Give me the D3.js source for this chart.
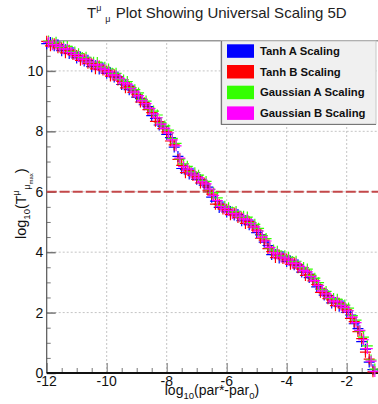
<!DOCTYPE html>
<html>
<head>
<meta charset="utf-8">
<script src="https://cdn.jsdelivr.net/npm/d3@7"></script>
<style>
  body { margin: 0; background: #fff; }
  svg { font-family: "Liberation Sans", Arial, sans-serif; }
</style>
</head>
<body>
<svg id="svg1" width="378" height="404"></svg>
<script>

// x grid used by the tanh runs, log10(par*-par0)
const xsTanh = [-12.000,-11.875,-11.750,-11.625,-11.500,-11.375,-11.250,-11.125,
            -11.000,-10.875,-10.750,-10.625,-10.500,-10.375,-10.250,-10.125,
            -10.000,-9.875,-9.750,-9.625,-9.500,-9.375,-9.250,-9.125,
            -9.000,-8.875,-8.750,-8.625,-8.500,-8.375,-8.250,-8.125,
            -8.000,-7.875,-7.750,-7.625,-7.500,-7.375,-7.250,-7.125,
            -7.000,-6.875,-6.750,-6.625,-6.500,-6.375,-6.250,-6.125,
            -6.000,-5.875,-5.750,-5.625,-5.500,-5.375,-5.250,-5.125,
            -5.000,-4.875,-4.750,-4.625,-4.500,-4.375,-4.250,-4.125,
            -4.000,-3.875,-3.750,-3.625,-3.500,-3.375,-3.250,-3.125,
            -3.000,-2.875,-2.750,-2.625,-2.500,-2.375,-2.250,-2.125,
            -2.000,-1.875,-1.750,-1.625,-1.500,-1.375,-1.250,-1.125];

// x grid used by the gaussian runs
const xsGauss = [-11.9375,-11.8125,-11.6875,-11.5625,-11.4375,-11.3125,-11.1875,-11.0625,
            -10.9375,-10.8125,-10.6875,-10.5625,-10.4375,-10.3125,-10.1875,-10.0625,
            -9.9375,-9.8125,-9.6875,-9.5625,-9.4375,-9.3125,-9.1875,-9.0625,
            -8.9375,-8.8125,-8.6875,-8.5625,-8.4375,-8.3125,-8.1875,-8.0625,
            -7.9375,-7.8125,-7.6875,-7.5625,-7.4375,-7.3125,-7.1875,-7.0625,
            -6.9375,-6.8125,-6.6875,-6.5625,-6.4375,-6.3125,-6.1875,-6.0625,
            -5.9375,-5.8125,-5.6875,-5.5625,-5.4375,-5.3125,-5.1875,-5.0625,
            -4.9375,-4.8125,-4.6875,-4.5625,-4.4375,-4.3125,-4.1875,-4.0625,
            -3.9375,-3.8125,-3.6875,-3.5625,-3.4375,-3.3125,-3.1875,-3.0625,
            -2.9375,-2.8125,-2.6875,-2.5625,-2.4375,-2.3125,-2.1875,-2.0625,
            -1.9375,-1.8125,-1.6875,-1.5625,-1.4375,-1.3125,-1.1875,-1.0625];

const tanhA = [10.90,10.94,10.83,10.87,10.67,10.70,10.58,10.61,
               10.43,10.46,10.33,10.35,10.14,10.17,10.06,10.10,
               9.92,9.94,9.80,9.80,9.55,9.54,9.38,9.36,
               9.13,9.08,8.88,8.82,8.52,8.43,8.21,8.16,
               7.90,7.79,7.48,7.17,6.77,6.73,6.59,6.61,
               6.41,6.40,6.22,6.15,5.82,5.69,5.48,5.50,
               5.33,5.35,5.23,5.25,5.04,5.05,4.91,4.90,
               4.65,4.57,4.33,4.22,3.92,3.92,3.81,3.86,
               3.69,3.71,3.58,3.58,3.34,3.33,3.16,3.12,
               2.85,2.78,2.58,2.56,2.32,2.33,2.21,2.23,
               2.01,1.92,1.63,1.47,1.04,0.79,0.36,0.11];

const tanhB = [10.98,10.83,10.90,10.77,10.77,10.60,10.68,10.54,
               10.51,10.35,10.40,10.25,10.24,10.07,10.16,10.03,
               10.00,9.83,9.87,9.70,9.65,9.44,9.48,9.29,
               9.21,8.97,8.95,8.72,8.62,8.33,8.31,8.09,
               7.98,7.68,7.55,7.07,6.87,6.63,6.69,6.54,
               6.49,6.29,6.29,6.05,5.92,5.59,5.58,5.43,
               5.41,5.24,5.30,5.15,5.14,4.95,5.01,4.83,
               4.73,4.46,4.40,4.12,4.02,3.82,3.91,3.79,
               3.77,3.60,3.65,3.48,3.44,3.23,3.26,3.05,
               2.93,2.67,2.65,2.46,2.42,2.23,2.31,2.16,
               2.09,1.81,1.70,1.37,1.14,0.69,0.46,0.04];

const gaussA = [10.99,10.92,10.95,10.79,10.82,10.81,10.65,10.63,
                10.57,10.44,10.45,10.27,10.29,10.28,10.13,10.12,
                10.06,9.92,9.92,9.72,9.70,9.65,9.45,9.38,
                9.27,9.06,9.00,8.74,8.67,8.54,8.28,8.18,
                8.04,7.77,7.60,7.09,6.92,6.84,6.66,6.63,
                6.55,6.38,6.34,6.07,5.97,5.80,5.55,5.52,
                5.47,5.33,5.35,5.17,5.19,5.16,4.98,4.92,
                4.79,4.55,4.45,4.14,4.07,4.03,3.88,3.88,
                3.83,3.69,3.70,3.50,3.49,3.44,3.23,3.14,
                2.99,2.76,2.70,2.48,2.47,2.44,2.28,2.25,
                2.15,1.90,1.75,1.39,1.19,0.90,0.43,0.13];

const gaussB = [10.95,10.87,10.87,10.81,10.73,10.72,10.61,10.55,
                10.48,10.39,10.37,10.29,10.20,10.19,10.09,10.04,
                9.97,9.87,9.84,9.74,9.61,9.56,9.41,9.30,
                9.18,9.01,8.92,8.76,8.58,8.45,8.24,8.10,
                7.95,7.72,7.52,7.11,6.83,6.75,6.62,6.55,
                6.46,6.33,6.26,6.09,5.88,5.71,5.51,5.44,
                5.38,5.28,5.27,5.19,5.10,5.07,4.94,4.84,
                4.70,4.50,4.37,4.16,3.98,3.94,3.84,3.80,
                3.74,3.64,3.62,3.52,3.40,3.35,3.19,3.06,
                2.90,2.71,2.62,2.50,2.38,2.35,2.24,2.17,
                2.06,1.85,1.67,1.41,1.10,0.81,0.39,0.05];

const seriesNames = ["Tanh A Scaling", "Tanh B Scaling", "Gaussian A Scaling", "Gaussian B Scaling"];
const seriesColors = ["#0000ff", "#ff0000", "#33ff00", "#ff00ff"];
const seriesData = [tanhA, tanhB, gaussA, gaussB];
const seriesX = [xsTanh, xsTanh, xsGauss, xsGauss];

const xTicks = [-12, -10, -8, -6, -4, -2];
const yTicks = [0, 2, 4, 6, 8, 10];
const cutLine = 6;

var margin = {left: 46.7, top: 40.7, right: 1.3, bottom: 31};
var W = 378, H = 404;

var xScale = d3.scaleLinear().domain([-12, -1]).range([margin.left, W - margin.right]);
var yScale = d3.scaleLinear().domain([0, 11]).range([H - margin.bottom, margin.top]);

var svg = d3.select("#svg1");

// title with super/subscript mu
var title = svg.append("text")
    .attr("x", 87).attr("y", 18)
    .style("font-size", "15px")
    .attr("fill", "#222");
title.append("tspan").text("T");
title.append("tspan").attr("dy", -7).style("font-size", "9px").text("\u03bc");
title.append("tspan").attr("dx", 4).attr("dy", 11).style("font-size", "9px").text("\u03bc");
title.append("tspan").attr("dx", 1).attr("dy", -4).text(" Plot Showing Universal Scaling 5D");

// grid
var grid = svg.append("g").attr("stroke", "#c4c4c4").attr("stroke-dasharray", "2,2");
grid.selectAll(".gx").data(xTicks.slice(1)).enter().append("line")
    .attr("x1", d => xScale(d)).attr("x2", d => xScale(d))
    .attr("y1", yScale(0)).attr("y2", yScale(11));
grid.selectAll(".gy").data(yTicks.slice(1)).enter().append("line")
    .attr("x1", xScale(-12)).attr("x2", xScale(-1))
    .attr("y1", d => yScale(d)).attr("y2", d => yScale(d));

// top frame
svg.append("line")
    .attr("x1", xScale(-12)).attr("x2", W)
    .attr("y1", yScale(11)).attr("y2", yScale(11))
    .attr("stroke", "#999").attr("stroke-width", 1.5);

// axes with minor ticks every 0.5
var xAxis = d3.axisBottom(xScale).tickValues(d3.range(-12, -0.99, 0.5))
    .tickSize(-5).tickFormat("");
var gx = svg.append("g").attr("transform", "translate(0," + yScale(0) + ")").call(xAxis);
gx.selectAll(".tick line").attr("stroke", "#777");
gx.selectAll(".tick line").filter(d => Math.abs(d % 2) < 1e-6).attr("y2", -10);
gx.select(".domain").remove();

var yAxis = d3.axisLeft(yScale).tickValues(d3.range(0, 11.01, 0.5))
    .tickSize(-4).tickFormat("");
var gy = svg.append("g").attr("transform", "translate(" + xScale(-12) + ",0)").call(yAxis);
gy.selectAll(".tick line").attr("stroke", "#777");
gy.selectAll(".tick line").filter(d => Math.abs(d % 2) < 1e-6).attr("x2", 9).attr("stroke-width", 1.5);
gy.select(".domain").remove();

svg.append("line")
    .attr("x1", xScale(-12)).attr("x2", xScale(-12))
    .attr("y1", yScale(0)).attr("y2", yScale(11))
    .attr("stroke", "#555").attr("stroke-width", 1.2);
svg.append("line")
    .attr("x1", xScale(-12)).attr("x2", W)
    .attr("y1", yScale(0)).attr("y2", yScale(0))
    .attr("stroke", "#111").attr("stroke-width", 2);

// tick labels
svg.selectAll(".xl").data(xTicks).enter().append("text")
    .attr("x", d => xScale(d)).attr("y", yScale(0) + 13)
    .attr("text-anchor", "middle").style("font-size", "14px").attr("fill", "#111")
    .text(d => d);
svg.selectAll(".yl").data(yTicks).enter().append("text")
    .attr("x", xScale(-12) - 3.5).attr("y", d => yScale(d) + 5)
    .attr("text-anchor", "end").style("font-size", "14px").attr("fill", "#111")
    .text(d => d);

// x axis title
var xt = svg.append("text")
    .attr("x", 212).attr("y", 395)
    .attr("text-anchor", "middle").style("font-size", "14px").attr("fill", "#111");
xt.append("tspan").text("log");
xt.append("tspan").attr("dy", 4).style("font-size", "9.5px").text("10");
xt.append("tspan").attr("dy", -4).text("(par*-par");
xt.append("tspan").attr("dy", 4).style("font-size", "9.5px").text("0");
xt.append("tspan").attr("dy", -4).text(")");

// y axis title
var yt = svg.append("text")
    .attr("transform", "translate(26,239) rotate(-90)")
    .style("font-size", "14.5px").attr("fill", "#111");
yt.append("tspan").text("log");
yt.append("tspan").attr("dy", 4).style("font-size", "9.5px").text("10");
yt.append("tspan").attr("dy", -4).text("(T");
yt.append("tspan").attr("dy", -7).style("font-size", "8.5px").text("\u03bc");
yt.append("tspan").attr("dx", 1).attr("dy", 11).style("font-size", "8.5px").text("\u03bc");
yt.append("tspan").attr("dy", 3).style("font-size", "6px").text("max");
yt.append("tspan").attr("dy", -7).text(")");

// reference line at log10 = 6
svg.append("line")
    .attr("x1", xScale(-12)).attr("x2", W)
    .attr("y1", yScale(cutLine)).attr("y2", yScale(cutLine))
    .attr("stroke", "#c4484a").attr("stroke-width", 2)
    .attr("stroke-dasharray", "10,3");

// plus markers, one group per series
var plot = svg.append("g");
seriesData.forEach((ys, k) => {
    var pts = seriesX[k].map((x, i) => ({x: x, y: ys[i]}));
    plot.append("g")
        .selectAll("path")
        .data(pts)
        .enter()
        .append("path")
        .attr("d", d => {
            var cx = xScale(d.x), cy = yScale(d.y), r = 5.5;
            return "M" + (cx - r) + "," + cy + "H" + (cx + r) + "M" + cx + "," + (cy - r) + "V" + (cy + r);
        })
        .attr("stroke", seriesColors[k])
        .attr("stroke-width", 1.2);
});

// legend
var lg = svg.append("g");
lg.append("rect")
    .attr("x", 221).attr("y", 41).attr("width", 155).attr("height", 83)
    .attr("fill", "#f0f0f0").attr("stroke", "#c8c8c8");
lg.append("path")
    .attr("d", "M221.5,41V124.5H376")
    .attr("fill", "none").attr("stroke", "#777").attr("stroke-width", 1.2);

seriesNames.forEach((name, k) => {
    lg.append("rect")
        .attr("x", 227).attr("y", 44.3 + k * 20.7)
        .attr("width", 27).attr("height", 13.5)
        .attr("fill", seriesColors[k]);
    lg.append("text")
        .attr("x", 260).attr("y", 55 + k * 20.7)
        .style("font-size", "11.3px").style("font-weight", "bold").attr("fill", "#111")
        .text(name);
});

</script>
</body>
</html>
